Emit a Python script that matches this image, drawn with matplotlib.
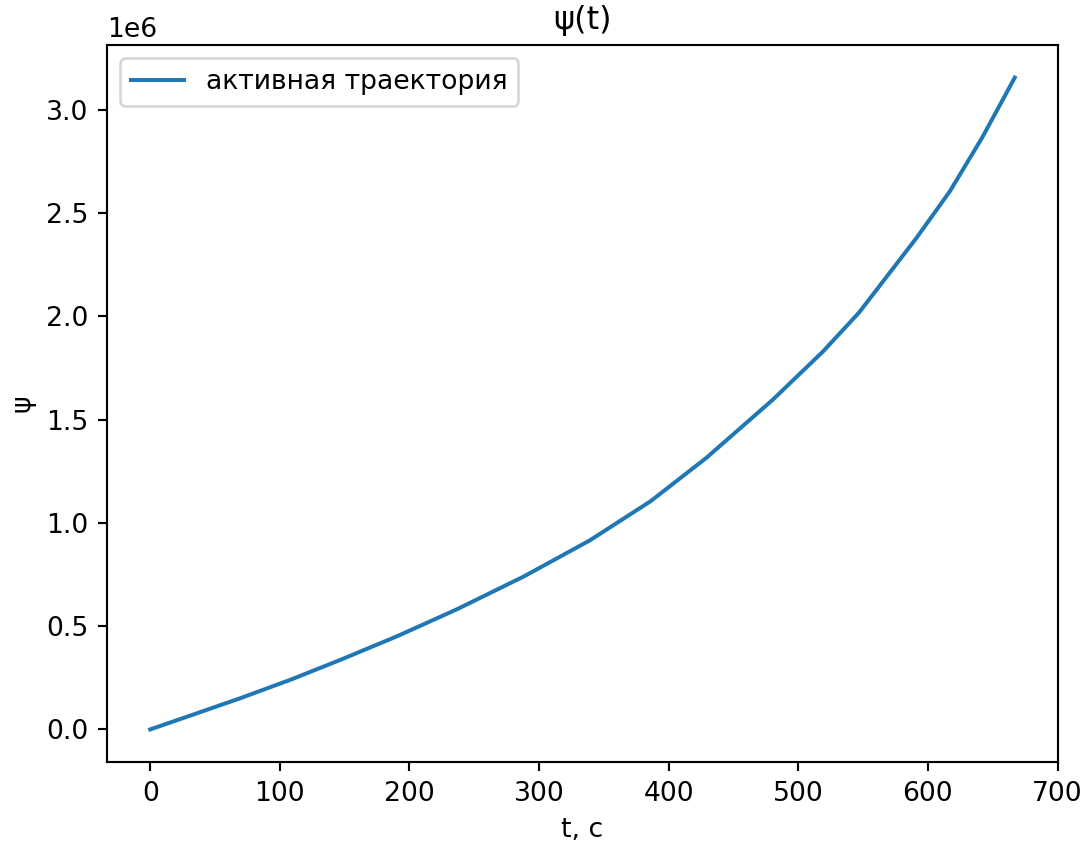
import numpy as np
import matplotlib
matplotlib.use('Agg')
import matplotlib.pyplot as plt

# values
t = [0, 30, 69, 108, 146, 190, 236, 288, 339, 386, 429, 480, 519, 547,
     591, 617, 642, 667]
psi = [0.0, 0.065e6, 0.15e6, 0.24e6, 0.335e6, 0.45e6, 0.58e6, 0.74e6,
       0.915e6, 1.105e6, 1.315e6, 1.595e6, 1.83e6, 2.02e6, 2.379e6,
       2.607e6, 2.868e6, 3.157e6]

fig = plt.figure(figsize=(1086/192, 844/192), dpi=192)
ax = fig.add_axes([107/1086, 1 - 762/844, (1058 - 107)/1086, (762 - 45)/844])

ax.plot(t, psi, label='активная траектория')
ax.set_title('ψ(t)')
ax.set_xlabel('t, с')
ax.set_ylabel('ψ')
ax.legend(loc='upper left')

fig.savefig('out.png', dpi=192)
